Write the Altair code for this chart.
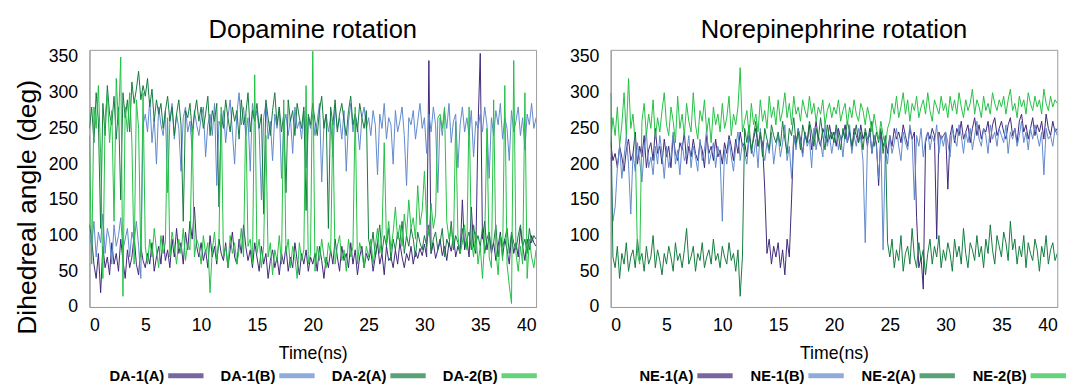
import altair as alt
import pandas as pd

# sampling times (ns), one point every 0.2 ns
TIME = [round(0.2 * i, 1) for i in range(201)]

# ---------------- Dopamine ----------------
DA1_A = [115, 95, 60, 40, 75, 20, 85, 55, 70, 45, 90, 60, 75, 50, 95, 65, 40, 80, 55, 70, 100, 60, 45, 85, 65,
         55, 75, 60, 90, 50, 70, 85, 60, 100, 65, 80, 55, 95, 70, 110, 75, 90, 60, 105, 80, 120, 95, 140, 85, 70,
         90, 65, 80, 55, 100, 70, 85, 60, 95, 75, 65, 90, 55, 80, 105, 70, 60, 95, 75, 115, 85, 65, 80, 55, 90,
         70, 50, 85, 60, 75, 40, 65, 80, 55, 70, 45, 75, 60, 85, 50, 70, 55, 90, 65, 45, 75, 60, 80, 50, 70,
         60, 75, 50, 85, 65, 40, 70, 55, 80, 60, 95, 70, 50, 85, 65, 75, 55, 90, 60, 80, 45, 70, 85, 55, 75,
         65, 80, 50, 70, 90, 60, 75, 45, 85, 65, 70, 55, 80, 60, 90, 70, 55, 75, 65, 85, 60, 78, 68, 82, 72,
         88, 70, 345, 75, 90, 68, 80, 95, 72, 85, 65, 90, 78, 100, 70, 85, 75, 150, 80, 95, 70, 140, 85, 75, 250,
         355, 95, 120, 80, 100, 75, 90, 65, 85, 105, 70, 95, 80, 60, 100, 75, 90, 70, 110, 85, 65, 95, 80, 100, 90, 85]
DA1_B = [100, 85, 120, 70, 105, 90, 130, 75, 110, 95, 60, 115, 85, 100, 125, 80, 95, 110, 70, 105, 90, 120, 85, 40, 255,
         270, 245, 290, 230, 265, 200, 280, 255, 240, 275, 160, 260, 285, 235, 270, 250, 190, 265, 280, 245, 260, 220, 275, 255, 240,
         265, 280, 210, 255, 270, 240, 285, 170, 260, 250, 275, 230, 265, 290, 245, 200, 270, 300, 255, 280, 240, 265, 190, 285, 260,
         275, 245, 150, 265, 285, 235, 260, 205, 270, 250, 280, 180, 255, 270, 240, 265, 215, 280, 250, 260, 235, 275, 195, 265, 250,
         270, 240, 260, 285, 175, 255, 270, 245, 265, 210, 280, 250, 265, 235, 275, 190, 260, 285, 245, 270, 255, 220, 265, 280, 250,
         265, 240, 275, 255, 185, 270, 250, 285, 235, 265, 255, 200, 275, 245, 260, 280, 240, 170, 265, 255, 275, 235, 260, 285, 250,
         265, 215, 270, 245, 280, 255, 160, 265, 240, 275, 250, 285, 230, 260, 270, 195, 255, 280, 245, 265, 240, 275, 210, 260, 250,
         270, 245, 280, 255, 180, 265, 240, 275, 255, 285, 235, 265, 250, 205, 275, 245, 260, 280, 240, 265, 220, 270, 255, 285, 250, 265]
DA2_A = [250, 280, 230, 300, 260, 110, 285, 240, 310, 270, 255, 295, 235, 280, 150, 300, 265, 290, 245, 315, 285, 305, 330, 290, 310,
         295, 320, 280, 305, 260, 290, 270, 285, 250, 275, 295, 260, 280, 240, 270, 290, 255, 120, 275, 265, 285, 245, 270, 290, 260,
         280, 250, 270, 295, 240, 275, 260, 285, 140, 270, 250, 290, 265, 245, 280, 260, 275, 235, 290, 255, 270, 300, 245, 275, 260,
         285, 250, 270, 130, 290, 265, 240, 275, 300, 255, 280, 245, 270, 160, 290, 260, 275, 240, 285, 265, 250, 280, 135, 270, 255,
         285, 260, 240, 275, 295, 250, 270, 110, 280, 255, 290, 245, 270, 285, 260, 240, 275, 295, 255, 270, 245, 285, 265, 250, 275,
         95, 80, 105, 70, 90, 115, 75, 100, 85, 110, 65, 95, 80, 105, 90, 120, 75, 100, 85, 110, 95, 70, 105, 90, 80,
         100, 85, 115, 75, 95, 105, 80, 90, 110, 70, 95, 85, 120, 80, 100, 90, 75, 110, 85, 95, 105, 80, 115, 90, 100,
         85, 110, 75, 95, 105, 80, 90, 115, 70, 100, 85, 95, 110, 75, 105, 90, 80, 100, 115, 85, 95, 75, 110, 90, 100, 95]
DA2_B = [240, 60, 280, 250, 310, 215, 40, 265, 300, 230, 275, 120, 320, 255, 350, 15, 280, 245, 300, 230, 60, 290, 250, 70, 300,
         85, 60, 95, 70, 110, 80, 55, 100, 75, 90, 265, 70, 105, 85, 60, 95, 75, 110, 65, 90, 80, 250, 70, 95, 85,
         60, 100, 75, 90, 20, 80, 105, 65, 95, 280, 70, 85, 55, 100, 75, 90, 60, 80, 110, 70, 270, 85, 95, 60, 325,
         75, 95, 55, 85, 240, 70, 90, 45, 80, 65, 100, 60, 290, 75, 95, 55, 85, 70, 40, 90, 65, 80, 310, 60, 75,
         358, 50, 85, 65, 95, 70, 55, 90, 75, 260, 60, 85, 100, 65, 80, 50, 95, 70, 85, 280, 60, 90, 75, 55, 85,
         70, 95, 60, 85, 110, 75, 100, 230, 90, 120, 80, 105, 140, 95, 115, 85, 130, 100, 150, 110, 125, 95, 170, 115, 135,
         190, 120, 100, 145, 110, 130, 265, 270, 250, 280, 120, 95, 110, 85, 260, 100, 75, 90, 115, 80, 280, 95, 70, 105, 60,
         85, 40, 95, 250, 70, 55, 290, 80, 45, 100, 65, 310, 60, 30, 5, 345, 75, 50, 85, 60, 300, 40, 95, 70, 55, 80]

# ---------------- Norepinephrine ----------------
NE1_A = [230, 205, 215, 195, 225, 210, 190, 220, 235, 205, 215, 245, 200, 225, 210, 240, 195, 220, 230, 205, 250, 215, 225, 200, 235,
         210, 225, 195, 240, 215, 205, 230, 220, 245, 200, 225, 210, 235, 215, 205, 230, 220, 195, 240, 215, 225, 205, 235, 210, 220,
         200, 230, 215, 240, 225, 205, 235, 215, 245, 225, 230, 210, 240, 220, 235, 250, 225, 240, 230, 165, 75, 95, 60, 85, 70,
         90, 55, 80, 45, 95, 70, 150, 240, 225, 250, 235, 215, 245, 230, 255, 220, 240, 260, 235, 225, 250, 240, 230, 255, 235,
         245, 225, 250, 235, 240, 255, 230, 245, 220, 250, 240, 230, 255, 235, 245, 225, 250, 215, 240, 230, 170, 245, 225, 235, 215,
         240, 225, 250, 235, 245, 230, 255, 240, 225, 250, 235, 245, 125, 55, 70, 25, 230, 245, 235, 250, 240, 95, 245, 235, 240,
         245, 165, 240, 255, 230, 250, 240, 260, 235, 245, 255, 230, 250, 265, 240, 255, 235, 250, 245, 260, 230, 255, 265, 240, 250,
         260, 245, 235, 255, 265, 240, 250, 230, 260, 270, 245, 255, 235, 250, 265, 240, 255, 245, 260, 235, 270, 250, 240, 260, 245, 250]
NE1_B = [210, 120, 140, 195, 225, 180, 210, 240, 200, 130, 215, 190, 230, 205, 175, 220, 245, 195, 210, 185, 225, 200, 240, 215, 180,
         225, 195, 210, 245, 200, 220, 185, 230, 205, 215, 240, 195, 225, 210, 190, 235, 205, 220, 250, 200, 215, 230, 195, 225, 210,
         120, 220, 200, 235, 210, 190, 225, 245, 205, 230, 215, 200, 240, 225, 210, 235, 195, 250, 220, 205, 230, 215, 245, 200, 225,
         240, 210, 230, 255, 205, 225, 180, 240, 220, 250, 230, 210, 245, 225, 235, 195, 250, 220, 240, 230, 210, 255, 225, 240, 215,
         235, 250, 220, 240, 210, 245, 230, 255, 215, 240, 225, 250, 235, 205, 90, 230, 245, 215, 240, 225, 180, 235, 80, 220, 200,
         240, 215, 230, 250, 225, 205, 245, 230, 220, 255, 235, 150, 240, 225, 250, 210, 235, 245, 220, 240, 230, 255, 215, 240, 225,
         245, 230, 210, 250, 235, 225, 255, 240, 215, 245, 230, 250, 220, 240, 260, 235, 225, 250, 240, 215, 255, 235, 245, 225, 250,
         240, 230, 255, 215, 245, 235, 250, 225, 240, 260, 230, 245, 220, 250, 235, 255, 240, 225, 245, 185, 250, 235, 240, 225, 250, 240]
NE2_A = [300, 70, 55, 85, 40, 75, 60, 90, 50, 70, 80, 55, 95, 65, 75, 50, 85, 60, 70, 100, 55, 80, 65, 45, 75,
         60, 85, 70, 50, 90, 65, 75, 55, 80, 110, 60, 70, 85, 50, 75, 65, 90, 55, 70, 80, 60, 95, 65, 75, 55,
         85, 70, 60, 90, 65, 75, 50, 80, 15, 70, 250, 230, 255, 215, 240, 260, 225, 245, 210, 250, 235, 220, 255, 240, 230,
         245, 225, 260, 235, 215, 250, 240, 265, 230, 245, 220, 255, 240, 230, 260, 245, 225, 250, 235, 265, 240, 220, 255, 235, 245,
         230, 255, 240, 220, 250, 235, 260, 245, 225, 240, 255, 230, 245, 220, 250, 235, 240, 260, 225, 245, 230, 250, 215, 240, 90,
         70, 95, 55, 80, 65, 100, 50, 75, 85, 60, 110, 70, 55, 90, 65, 80, 45, 75, 95, 60, 85, 70, 100, 55, 80,
         65, 90, 75, 50, 95, 70, 85, 60, 110, 75, 55, 90, 80, 65, 100, 70, 85, 55, 95, 75, 115, 80, 60, 100, 85,
         70, 105, 90, 65, 120, 80, 95, 60, 85, 70, 100, 55, 90, 75, 65, 95, 80, 50, 85, 70, 100, 60, 80, 90, 65, 75]
NE2_B = [230, 265, 240, 280, 225, 255, 300, 240, 320, 250, 270, 230, 75, 60, 260, 285, 240, 270, 250, 290, 235, 265, 245, 275, 300,
         255, 240, 280, 260, 230, 295, 250, 270, 240, 285, 260, 245, 300, 255, 235, 275, 260, 290, 245, 265, 230, 280, 255, 270, 245,
         285, 250, 265, 295, 240, 270, 255, 280, 335, 245, 260, 275, 240, 285, 255, 270, 245, 290, 260, 275, 250, 295, 265, 280, 255,
         290, 260, 275, 300, 265, 285, 255, 295, 270, 280, 260, 290, 275, 265, 295, 270, 285, 260, 280, 270, 290, 255, 275, 285, 265,
         280, 270, 290, 260, 275, 285, 255, 280, 265, 290, 270, 260, 285, 275, 255, 280, 265, 245, 270, 250, 235, 260, 240, 225, 250,
         260, 285, 270, 295, 265, 280, 300, 270, 290, 260, 285, 275, 295, 265, 280, 290, 270, 300, 275, 260, 290, 280, 270, 295, 275,
         285, 265, 295, 275, 290, 270, 300, 280, 265, 290, 275, 285, 305, 270, 290, 280, 265, 295, 275, 285, 270, 300, 285, 275, 290,
         280, 295, 270, 290, 305, 275, 285, 265, 295, 280, 290, 270, 300, 285, 275, 295, 280, 290, 270, 305, 285, 275, 295, 280, 290, 285]

DA_NAMES = ["DA-1(A)", "DA-1(B)", "DA-2(A)", "DA-2(B)"]
NE_NAMES = ["NE-1(A)", "NE-1(B)", "NE-2(A)", "NE-2(B)"]
COLORS = ["#3d2778", "#5f88cc", "#117a3c", "#22c043"]
X_TICKS = [0, 5, 10, 15, 20, 25, 30, 35, 40]
Y_TICKS = [0, 50, 100, 150, 200, 250, 300, 350]

FONT = "Liberation Sans"
PLOT_W, PLOT_H = 455, 262
FRAME = "#9a9a9a"


def long_df(names, series):
    rows = []
    for k, (name, vals) in enumerate(zip(names, series)):
        assert len(vals) == len(TIME), (name, len(vals))
        for t, v in zip(TIME, vals):
            rows.append({"t": t, "v": v, "series": name, "k": k})
    return pd.DataFrame(rows)


def panel(df, names, title, y_title):
    if y_title:
        y_axis = alt.Axis(values=Y_TICKS, title=y_title, titleY=160, labelOverlap=False)
    else:
        y_axis = alt.Axis(values=Y_TICKS, title=None, labelOverlap=False)
    lines = alt.Chart(df).mark_line(strokeWidth=1, clip=True).encode(
        x=alt.X("t:Q", scale=alt.Scale(domain=[0, 40], nice=False),
                axis=alt.Axis(values=X_TICKS, title="Time(ns)", labelOverlap=False)),
        y=alt.Y("v:Q", scale=alt.Scale(domain=[0, 360], nice=False), axis=y_axis),
        color=alt.Color("series:N", scale=alt.Scale(domain=names, range=COLORS), legend=None),
        order=alt.Order("t:Q"),
    )
    return lines.properties(width=PLOT_W, height=PLOT_H,
                            title=alt.Title(title, font=FONT, fontSize=26, fontWeight="normal",
                                            color="black", anchor="middle", offset=5))


def legend_row(names, align):
    ldf = pd.DataFrame({"series": names})
    xenc = alt.X("series:N", sort=names, axis=None,
                 scale=alt.Scale(type="point", domain=names, padding=0.51, align=align))
    base = alt.Chart(ldf)
    labels = base.mark_text(align="right", baseline="middle", font=FONT, fontSize=15,
                            fontWeight="bold", color="black").encode(x=xenc, text="series:N")
    swatches = base.mark_tick(orient="horizontal", size=36, thickness=5, xOffset=22).encode(
        x=xenc,
        color=alt.Color("series:N", scale=alt.Scale(domain=names, range=COLORS), legend=None),
    )
    return alt.layer(labels, swatches).properties(
        width=PLOT_W, height=14, view=alt.ViewBackground(stroke="transparent")
    )


da_df = long_df(DA_NAMES, [DA1_A, DA1_B, DA2_A, DA2_B])
ne_df = long_df(NE_NAMES, [NE1_A, NE1_B, NE2_A, NE2_B])

left = alt.vconcat(panel(da_df, DA_NAMES, "Dopamine rotation", "Dihedreal angle (deg)"),
                   legend_row(DA_NAMES, 0.66), spacing=5)
right = alt.vconcat(panel(ne_df, NE_NAMES, "Norepinephrine rotation", None),
                    legend_row(NE_NAMES, 0.73), spacing=5)

chart = alt.hconcat(left, right, spacing=31).resolve_scale(
    color="independent", x="independent"
).configure_view(
    stroke=FRAME
).configure_axis(
    grid=False, ticks=False, domainColor=FRAME,
    labelFont=FONT, labelFontSize=18, labelColor="black",
    titleFont=FONT, titleColor="black", titleFontWeight="normal",
).configure_axisX(
    labelPadding=10, titleFontSize=18, titlePadding=10,
).configure_axisY(
    labelPadding=12, titleFontSize=27, titlePadding=7,
)

chart.save("out.html", embed_options={"renderer": "svg", "actions": False})
